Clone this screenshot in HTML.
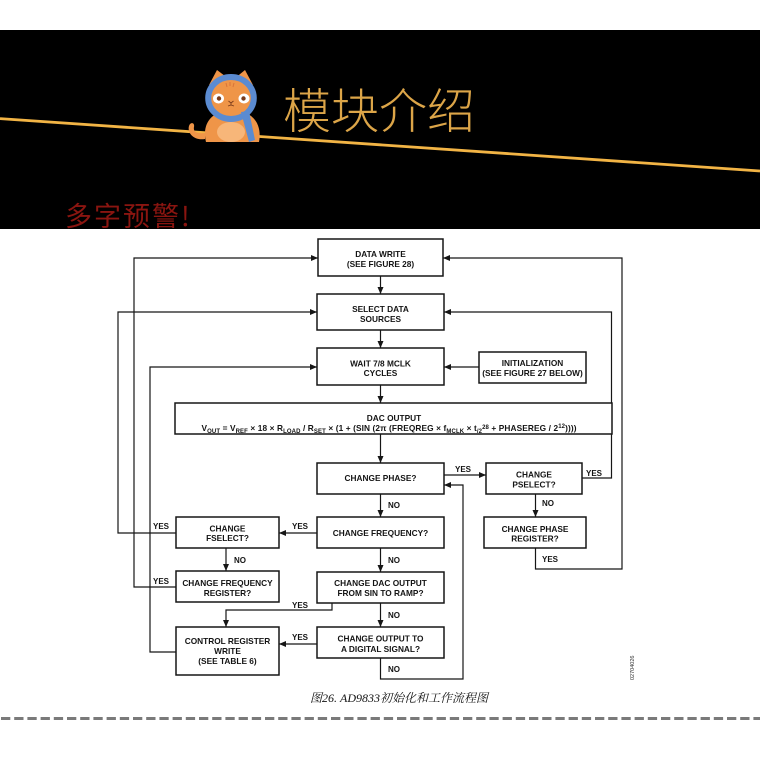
<!DOCTYPE html>
<html>
<head>
<meta charset="utf-8">
<style>
html,body{margin:0;padding:0;background:#fff;width:760px;height:760px;overflow:hidden}
svg{display:block}
.t{font-family:"Liberation Sans",Arial,sans-serif;font-weight:bold;font-size:8.3px;fill:#141414;text-anchor:middle}
.l{font-family:"Liberation Sans",Arial,sans-serif;font-weight:bold;font-size:8px;fill:#141414}
.b{fill:#fff;stroke:#161616;stroke-width:1.5}
.c{fill:none;stroke:#161616;stroke-width:1.2}
</style>
</head>
<body>
<svg width="760" height="760" viewBox="0 0 760 760" xmlns="http://www.w3.org/2000/svg">
<defs>
<marker id="a" markerWidth="7" markerHeight="6" refX="7" refY="3" orient="auto" markerUnits="userSpaceOnUse">
<path d="M0,0 L7,3 L0,6 z" fill="#161616"/>
</marker>
</defs>

<!-- header band -->
<rect x="0" y="0" width="760" height="760" fill="#fff"/>
<rect x="0" y="30" width="760" height="199" fill="#000"/>
<line x1="0" y1="118.6" x2="760" y2="171" stroke="#f2b445" stroke-width="2.8"/>

<!-- cat -->
<g>
<path d="M205,139 C194,141 187,133 189,126 C190,122 195,122 194,127 C193,132 197,134 205,133 Z" fill="#ef9548"/>
<path d="M206,142 C202,126 209,111 232,110 C255,111 262,126 259,142 Z" fill="#ef9548"/>
<ellipse cx="231" cy="132" rx="14" ry="10" fill="#f7b679"/>
<polygon points="209,85 217,70 229,79" fill="#ef9548"/>
<polygon points="234,79 245,70 253,85" fill="#ef9548"/>
<ellipse cx="231" cy="98" rx="21" ry="20" fill="#ef9548"/>
<ellipse cx="231" cy="98" rx="22.8" ry="21" fill="none" stroke="#5b8bd1" stroke-width="6"/>
<path d="M241,112 L249,111 L255,140 L249,142 Z" fill="#5b8bd1"/>
<ellipse cx="218.5" cy="98.5" rx="5.5" ry="5" fill="#fff"/>
<ellipse cx="244" cy="98.5" rx="5.5" ry="5" fill="#fff"/>
<circle cx="219" cy="98.5" r="2.2" fill="#7a3b1b"/>
<circle cx="243.5" cy="98.5" r="2.2" fill="#7a3b1b"/>
<path d="M228.5,101 L231,103 L233.5,101 M231,103 L231,105 M228,106 L231,105 L234,106" fill="none" stroke="#7a3b1b" stroke-width="0.9"/>
<path d="M226,83 l1,4 M230,82 l0,4 M234,83 l-1,4" stroke="#d9743a" stroke-width="1"/>
</g>

<!-- title -->
<text x="283" y="128" font-family="'Noto Sans CJK SC','WenQuanYi Zen Hei',sans-serif" font-weight="200" font-size="48" fill="#dca548">模块介绍</text>
<text x="65" y="226" font-family="'Noto Sans CJK SC','WenQuanYi Zen Hei',sans-serif" font-size="27" letter-spacing="2" fill="#8a1510">多字预警!</text>

<!-- connectors -->
<path class="c" marker-end="url(#a)" d="M380.5,276 V294"/>
<path class="c" marker-end="url(#a)" d="M380.5,330 V348"/>
<path class="c" marker-end="url(#a)" d="M380.5,385 V403"/>
<path class="c" marker-end="url(#a)" d="M380.5,434 V463"/>
<path class="c" marker-end="url(#a)" d="M380.5,494 V517"/>
<path class="c" marker-end="url(#a)" d="M380.5,548 V572"/>
<path class="c" marker-end="url(#a)" d="M380.5,603 V627"/>
<path class="c" marker-end="url(#a)" d="M380.5,658 V679 H463 V485 H444"/>
<path class="c" marker-end="url(#a)" d="M444,475 H486"/>
<path class="c" marker-end="url(#a)" d="M582,478 H611.5 V312 H444"/>
<path class="c" marker-end="url(#a)" d="M535.5,494 V517"/>
<path class="c" marker-end="url(#a)" d="M535.5,548 V569 H622 V258 H443"/>
<path class="c" marker-end="url(#a)" d="M317,533 H279"/>
<path class="c" marker-end="url(#a)" d="M176,533 H118 V312 H317"/>
<path class="c" marker-end="url(#a)" d="M226,548 V571"/>
<path class="c" marker-end="url(#a)" d="M176,587 H134 V258 H318"/>
<path class="c" marker-end="url(#a)" d="M332,603 V610 H226 V627"/>
<path class="c" marker-end="url(#a)" d="M317,644 H279"/>
<path class="c" marker-end="url(#a)" d="M176,652 H150 V367 H317"/>
<path class="c" marker-end="url(#a)" d="M479,367 H444"/>

<!-- boxes -->
<rect class="b" x="318" y="239" width="125" height="37"/>
<text class="t" x="380.5" y="257">DATA WRITE</text>
<text class="t" x="380.5" y="267">(SEE FIGURE 28)</text>

<rect class="b" x="317" y="294" width="127" height="36"/>
<text class="t" x="380.5" y="312">SELECT DATA</text>
<text class="t" x="380.5" y="322">SOURCES</text>

<rect class="b" x="317" y="348" width="127" height="37"/>
<text class="t" x="380.5" y="366.5">WAIT 7/8 MCLK</text>
<text class="t" x="380.5" y="376">CYCLES</text>

<rect class="b" x="479" y="352" width="107" height="31"/>
<text class="t" x="532.5" y="366">INITIALIZATION</text>
<text class="t" x="532.5" y="376">(SEE FIGURE 27 BELOW)</text>

<rect class="b" x="175" y="403" width="437" height="31"/>
<text class="t" x="394" y="421">DAC OUTPUT</text>
<text x="201.5" y="431" textLength="375" lengthAdjust="spacing" font-family="'Liberation Sans',Arial,sans-serif" font-weight="bold" font-size="8.3" fill="#141414">V<tspan font-size="6" dy="2">OUT</tspan><tspan dy="-2"> = V</tspan><tspan font-size="6" dy="2">REF</tspan><tspan dy="-2"> × 18 × R</tspan><tspan font-size="6" dy="2">LOAD</tspan><tspan dy="-2"> / R</tspan><tspan font-size="6" dy="2">SET</tspan><tspan dy="-2"> × (1 + (SIN (2π (FREQREG × f</tspan><tspan font-size="6" dy="2">MCLK</tspan><tspan dy="-2"> × t</tspan><tspan font-size="6" dy="2">/2</tspan><tspan font-size="6" dy="-4">28</tspan><tspan dy="2"> + PHASEREG / 2</tspan><tspan font-size="6" dy="-3">12</tspan><tspan dy="3">))))</tspan></text>

<rect class="b" x="317" y="463" width="127" height="31"/>
<text class="t" x="380.5" y="481">CHANGE PHASE?</text>

<rect class="b" x="486" y="463" width="96" height="31"/>
<text class="t" x="534" y="477.5">CHANGE</text>
<text class="t" x="534" y="487.5">PSELECT?</text>

<rect class="b" x="484" y="517" width="102" height="31"/>
<text class="t" x="535" y="532">CHANGE PHASE</text>
<text class="t" x="535" y="541.5">REGISTER?</text>

<rect class="b" x="317" y="517" width="127" height="31"/>
<text class="t" x="380.5" y="536">CHANGE FREQUENCY?</text>

<rect class="b" x="176" y="517" width="103" height="31"/>
<text class="t" x="227.5" y="531.5">CHANGE</text>
<text class="t" x="227.5" y="541">FSELECT?</text>

<rect class="b" x="176" y="571" width="103" height="31"/>
<text class="t" x="227.5" y="586">CHANGE FREQUENCY</text>
<text class="t" x="227.5" y="596">REGISTER?</text>

<rect class="b" x="317" y="572" width="127" height="31"/>
<text class="t" x="380.5" y="586">CHANGE DAC OUTPUT</text>
<text class="t" x="380.5" y="596">FROM SIN TO RAMP?</text>

<rect class="b" x="317" y="627" width="127" height="31"/>
<text class="t" x="380.5" y="641.5">CHANGE OUTPUT TO</text>
<text class="t" x="380.5" y="652">A DIGITAL SIGNAL?</text>

<rect class="b" x="176" y="627" width="103" height="48"/>
<text class="t" x="227.5" y="644">CONTROL REGISTER</text>
<text class="t" x="227.5" y="654">WRITE</text>
<text class="t" x="227.5" y="664">(SEE TABLE 6)</text>

<!-- labels -->
<text class="l" x="388" y="508">NO</text>
<text class="l" x="388" y="563">NO</text>
<text class="l" x="388" y="618">NO</text>
<text class="l" x="388" y="672">NO</text>
<text class="l" x="455" y="472">YES</text>
<text class="l" x="586" y="476">YES</text>
<text class="l" x="542" y="506">NO</text>
<text class="l" x="542" y="562">YES</text>
<text class="l" x="292" y="529">YES</text>
<text class="l" x="153" y="529">YES</text>
<text class="l" x="234" y="563">NO</text>
<text class="l" x="153" y="584">YES</text>
<text class="l" x="292" y="608">YES</text>
<text class="l" x="292" y="640">YES</text>

<text x="0" y="0" transform="translate(634,680) rotate(-90)" font-family="'Liberation Sans',Arial,sans-serif" font-size="5.5" fill="#333">02704026</text>

<!-- caption -->
<text x="310" y="702" font-family="'Liberation Serif','Noto Serif CJK SC',serif" font-style="italic" font-size="12" fill="#111">图26. AD9833初始化和工作流程图</text>

<!-- dashed divider -->
<line x1="1" y1="718.5" x2="760" y2="718.5" stroke="#7a7a7a" stroke-width="3" stroke-dasharray="9.3 3.9"/>
</svg>
</body>
</html>
